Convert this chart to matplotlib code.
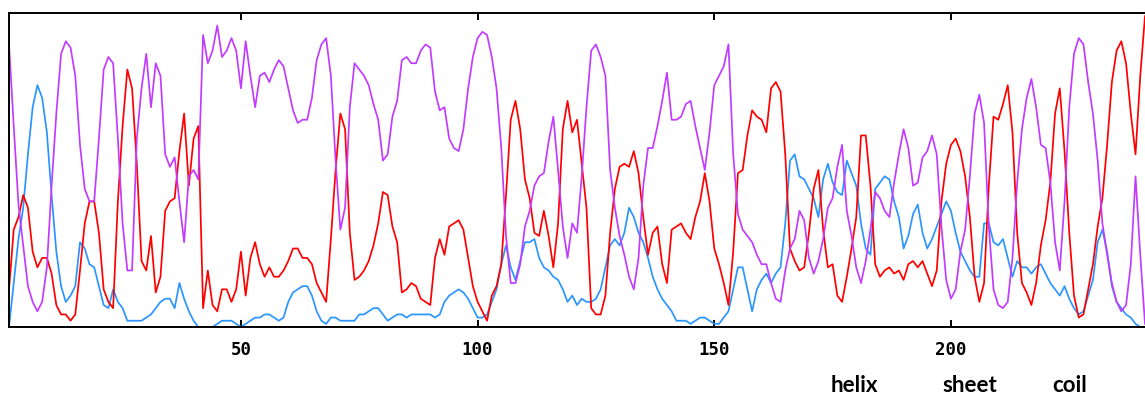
import matplotlib.pyplot as plt
import numpy as np

# per-residue profiles (residues 1..241)
red = [
    0.12, 0.31, 0.35, 0.42, 0.38, 0.24, 0.19, 0.22, 0.22, 0.17,
    0.07, 0.04, 0.04, 0.02, 0.04, 0.18, 0.33, 0.40, 0.40, 0.30,
    0.12, 0.08, 0.06, 0.40, 0.64, 0.82, 0.76, 0.52, 0.21, 0.18,
    0.29, 0.11, 0.16, 0.37, 0.40, 0.41, 0.56, 0.68, 0.45, 0.60,
    0.64, 0.06, 0.18, 0.07, 0.05, 0.12, 0.12, 0.08, 0.12, 0.24,
    0.10, 0.22, 0.27, 0.20, 0.16, 0.19, 0.16, 0.16, 0.18, 0.21,
    0.25, 0.25, 0.22, 0.22, 0.20, 0.14, 0.11, 0.08, 0.28, 0.50,
    0.68, 0.63, 0.30, 0.15, 0.16, 0.18, 0.21, 0.26, 0.33, 0.43,
    0.42, 0.32, 0.27, 0.11, 0.12, 0.14, 0.13, 0.09, 0.08, 0.07,
    0.22, 0.28, 0.23, 0.32, 0.33, 0.34, 0.31, 0.22, 0.13, 0.08,
    0.05, 0.02, 0.10, 0.13, 0.20, 0.42, 0.66, 0.72, 0.63, 0.47,
    0.41, 0.30, 0.29, 0.37, 0.29, 0.19, 0.33, 0.63, 0.72, 0.62,
    0.66, 0.52, 0.38, 0.06, 0.04, 0.04, 0.10, 0.30, 0.44, 0.51,
    0.52, 0.51, 0.56, 0.49, 0.35, 0.23, 0.30, 0.32, 0.20, 0.14,
    0.31, 0.32, 0.33, 0.30, 0.28, 0.35, 0.40, 0.49, 0.40, 0.25,
    0.20, 0.14, 0.07, 0.24, 0.49, 0.50, 0.61, 0.69, 0.67, 0.66,
    0.62, 0.76, 0.78, 0.75, 0.55, 0.25, 0.21, 0.18, 0.19, 0.30,
    0.44, 0.50, 0.31, 0.19, 0.20, 0.10, 0.08, 0.16, 0.25, 0.35,
    0.61, 0.61, 0.45, 0.20, 0.16, 0.18, 0.19, 0.17, 0.18, 0.15,
    0.20, 0.21, 0.19, 0.21, 0.17, 0.13, 0.18, 0.40, 0.52, 0.58,
    0.60, 0.56, 0.48, 0.35, 0.16, 0.08, 0.14, 0.45, 0.67, 0.66,
    0.71, 0.77, 0.62, 0.30, 0.14, 0.11, 0.07, 0.14, 0.26, 0.34,
    0.46, 0.68, 0.76, 0.56, 0.30, 0.10, 0.03, 0.04, 0.12, 0.20,
    0.32, 0.41, 0.58, 0.78, 0.88, 0.91, 0.84, 0.68, 0.55, 0.80,
    0.99,
]

purple = [
    0.90, 0.64, 0.39, 0.26, 0.13, 0.08, 0.05, 0.08, 0.19, 0.45,
    0.68, 0.87, 0.91, 0.89, 0.80, 0.58, 0.44, 0.40, 0.40, 0.60,
    0.82, 0.86, 0.84, 0.60, 0.33, 0.18, 0.18, 0.60, 0.76, 0.87,
    0.70, 0.84, 0.80, 0.55, 0.51, 0.54, 0.40, 0.27, 0.48, 0.50,
    0.47, 0.93, 0.84, 0.88, 0.96, 0.86, 0.88, 0.92, 0.88, 0.76,
    0.91, 0.80, 0.70, 0.80, 0.81, 0.78, 0.82, 0.85, 0.83, 0.76,
    0.69, 0.65, 0.66, 0.66, 0.73, 0.85, 0.90, 0.92, 0.80, 0.53,
    0.31, 0.38, 0.70, 0.84, 0.82, 0.80, 0.77, 0.71, 0.66, 0.53,
    0.55, 0.67, 0.72, 0.85, 0.86, 0.84, 0.84, 0.88, 0.90, 0.89,
    0.75, 0.69, 0.70, 0.60, 0.57, 0.56, 0.63, 0.76, 0.86, 0.92,
    0.94, 0.93, 0.86, 0.76, 0.57, 0.29, 0.14, 0.14, 0.20, 0.32,
    0.37, 0.45, 0.48, 0.49, 0.59, 0.67, 0.50, 0.32, 0.22, 0.33,
    0.30, 0.48, 0.70, 0.88, 0.90, 0.86, 0.80, 0.50, 0.38, 0.29,
    0.23, 0.16, 0.12, 0.22, 0.45, 0.57, 0.57, 0.64, 0.72, 0.81,
    0.66, 0.66, 0.67, 0.71, 0.72, 0.64, 0.57, 0.50, 0.62, 0.77,
    0.80, 0.83, 0.90, 0.55, 0.36, 0.31, 0.29, 0.27, 0.23, 0.20,
    0.20, 0.14, 0.09, 0.08, 0.18, 0.25, 0.28, 0.37, 0.34, 0.22,
    0.17, 0.21, 0.28, 0.38, 0.41, 0.51, 0.58, 0.37, 0.29, 0.19,
    0.14, 0.21, 0.31, 0.43, 0.41, 0.37, 0.35, 0.46, 0.55, 0.63,
    0.57, 0.45, 0.46, 0.54, 0.56, 0.61, 0.55, 0.32, 0.15, 0.09,
    0.12, 0.24, 0.31, 0.48, 0.68, 0.74, 0.65, 0.32, 0.12, 0.07,
    0.06, 0.08, 0.22, 0.46, 0.63, 0.73, 0.79, 0.70, 0.58, 0.57,
    0.46, 0.27, 0.18, 0.40, 0.70, 0.87, 0.92, 0.90, 0.78, 0.68,
    0.53, 0.33, 0.23, 0.14, 0.08, 0.05, 0.07, 0.20, 0.48, 0.23,
    0.01,
]

blue = [
    0.00, 0.14, 0.28, 0.38, 0.55, 0.70, 0.77, 0.73, 0.62, 0.42,
    0.24, 0.13, 0.08, 0.10, 0.13, 0.27, 0.25, 0.20, 0.19, 0.13,
    0.07, 0.06, 0.12, 0.08, 0.06, 0.02, 0.02, 0.02, 0.02, 0.03,
    0.04, 0.06, 0.08, 0.09, 0.09, 0.06, 0.14, 0.09, 0.05, 0.02,
    0.00, 0.00, 0.00, 0.00, 0.01, 0.02, 0.02, 0.02, 0.01, 0.00,
    0.01, 0.02, 0.03, 0.03, 0.04, 0.04, 0.03, 0.02, 0.03, 0.08,
    0.11, 0.12, 0.13, 0.13, 0.10, 0.05, 0.02, 0.01, 0.03, 0.03,
    0.02, 0.02, 0.02, 0.02, 0.04, 0.04, 0.05, 0.06, 0.06, 0.04,
    0.02, 0.03, 0.04, 0.04, 0.03, 0.04, 0.04, 0.04, 0.04, 0.04,
    0.03, 0.04, 0.08, 0.10, 0.11, 0.12, 0.11, 0.09, 0.06, 0.03,
    0.03, 0.04, 0.08, 0.12, 0.20, 0.26, 0.19, 0.15, 0.21, 0.27,
    0.27, 0.28, 0.22, 0.19, 0.18, 0.16, 0.15, 0.12, 0.08, 0.10,
    0.07, 0.09, 0.08, 0.08, 0.09, 0.12, 0.19, 0.26, 0.28, 0.26,
    0.30, 0.38, 0.35, 0.30, 0.27, 0.22, 0.16, 0.12, 0.09, 0.07,
    0.05, 0.02, 0.02, 0.02, 0.01, 0.02, 0.03, 0.03, 0.02, 0.01,
    0.01, 0.03, 0.05, 0.12, 0.19, 0.19, 0.12, 0.05, 0.12, 0.15,
    0.17, 0.14, 0.17, 0.19, 0.33, 0.53, 0.55, 0.48, 0.47, 0.44,
    0.41, 0.35, 0.47, 0.52, 0.46, 0.43, 0.42, 0.53, 0.49, 0.45,
    0.33, 0.25, 0.23, 0.44, 0.46, 0.48, 0.47, 0.40, 0.35, 0.25,
    0.29, 0.36, 0.39, 0.30, 0.25, 0.28, 0.32, 0.36, 0.40, 0.37,
    0.30, 0.24, 0.21, 0.18, 0.16, 0.16, 0.33, 0.33, 0.27, 0.26,
    0.28, 0.22, 0.16, 0.21, 0.19, 0.19, 0.17, 0.19, 0.20, 0.17,
    0.14, 0.12, 0.10, 0.13, 0.09, 0.06, 0.04, 0.05, 0.10, 0.15,
    0.27, 0.31, 0.24, 0.13, 0.08, 0.06, 0.04, 0.03, 0.01, 0.00,
    0.00,
]

tick_vals = [50, 100, 150, 200]
labels = ['helix', 'sheet', 'coil']

residues = np.arange(1, len(red) + 1)

fig = plt.figure(figsize=(11.45, 3.94), dpi=100)
ax = fig.add_axes([9 / 1145, 67 / 394, 1136 / 1145, 314 / 394])

ax.plot(residues, blue, color='#2b95ff', lw=1.25)
ax.plot(residues, red, color='#ff0000', lw=1.25)
ax.plot(residues, purple, color='#c23cff', lw=1.25)

ax.set_xlim(1, len(red))
ax.set_ylim(0, 1)
ax.set_yticks([])
ax.set_xticks(tick_vals)
ax.set_xticklabels([str(t) for t in tick_vals],
                   fontfamily='DejaVu Sans Mono', fontweight='bold', fontsize=12.5)
ax.tick_params(axis='x', direction='in', length=5, width=1.4, top=True, pad=10)
for side in ['left', 'top', 'bottom']:
    ax.spines[side].set_linewidth(1.4)
ax.spines['right'].set_visible(False)

for lab, xc in zip(labels, [854, 970, 1070]):
    fig.text(xc / 1145, 2 / 394, lab, ha='center', va='baseline',
             fontfamily='Lato', fontweight='bold', fontsize=16)

plt.savefig('out.png')
